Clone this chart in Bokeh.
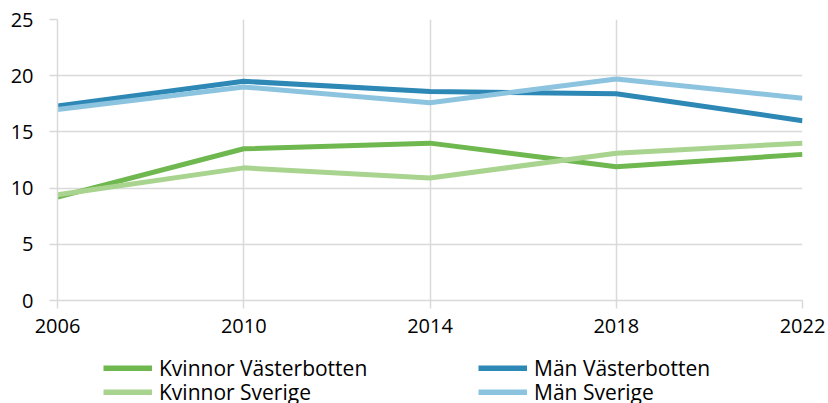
from bokeh.plotting import figure
from bokeh.layouts import column
from bokeh.models import Legend, LegendItem, FixedTicker, Range1d
from bokeh.embed import file_html
from bokeh.resources import INLINE

years = [2006, 2010, 2014, 2018, 2022]
kvinnor_vasterbotten = [9.2, 13.5, 14.0, 11.9, 13.0]
kvinnor_sverige = [9.4, 11.8, 10.9, 13.1, 14.0]
man_vasterbotten = [17.3, 19.5, 18.6, 18.4, 16.0]
man_sverige = [17.0, 19.0, 17.6, 19.7, 18.0]
y_ticks = [0, 5, 10, 15, 20, 25]

names = ["Kvinnor Västerbotten", "Kvinnor Sverige", "Män Västerbotten", "Män Sverige"]
values = [kvinnor_vasterbotten, kvinnor_sverige, man_vasterbotten, man_sverige]
colors = ["#6fb74f", "#a9d48f", "#2e88b6", "#8cc4e0"]

FONT = "Open Sans"
FS = "20px"
LFS = "21px"
GRID = "#d9d9d9"

p = figure(width=828, height=345, output_backend="svg", toolbar_location=None,
           x_range=Range1d(2006, 2022), y_range=Range1d(0, 25),
           min_border_left=57, min_border_right=26, min_border_top=19,
           min_border_bottom=45)
p.outline_line_color = None

for vals, col in zip(values, colors):
    p.line(years, vals, line_color=col, line_width=5)

for ax in (p.xaxis[0], p.yaxis[0]):
    ax.major_label_text_font = FONT
    ax.major_label_text_font_size = FS
    ax.major_label_text_color = "#000000"
    ax.axis_line_color = GRID
    ax.axis_line_width = 1.5
    ax.major_tick_line_color = GRID
    ax.major_tick_line_width = 1.5
    ax.major_tick_out = 8
    ax.major_tick_in = 0
    ax.minor_tick_line_color = None

p.xaxis[0].ticker = FixedTicker(ticks=years)
p.yaxis[0].ticker = FixedTicker(ticks=y_ticks)
p.xaxis[0].major_label_standoff = 10
p.yaxis[0].major_label_standoff = 16

p.xgrid[0].ticker = FixedTicker(ticks=years)
p.ygrid[0].ticker = FixedTicker(ticks=y_ticks)
p.xgrid.grid_line_color = GRID
p.ygrid.grid_line_color = GRID
p.xgrid.grid_line_width = 1.5
p.ygrid.grid_line_width = 1.5

# legend panel (its plot ranges keep the series out of view; only the legend shows)
lp = figure(width=828, height=58, output_backend="svg", toolbar_location=None,
            x_range=Range1d(0, 1), y_range=Range1d(0, 1),
            x_axis_location=None, y_axis_location=None,
            min_border_left=0, min_border_right=0, min_border_top=0,
            min_border_bottom=0)
lp.outline_line_color = None
lp.xgrid.visible = False
lp.ygrid.visible = False

lr = {}
for name, vals, col in zip(names, values, colors):
    lr[name] = lp.line(years, vals, line_color=col, line_width=6)

def add_row(row_names, y):
    lg = Legend(items=[LegendItem(label=n, renderers=[lr[n]]) for n in row_names],
                location=(46, y), orientation="horizontal",
                label_text_font=FONT, label_text_font_size=LFS,
                label_text_color="#000000",
                glyph_width=49, glyph_height=6, label_standoff=7,
                label_width=319, label_height=20, spacing=0,
                padding=0, margin=0,
                border_line_color=None, background_fill_alpha=0)
    lp.add_layout(lg, "center")

add_row([names[0], names[2]], 21)
add_row([names[1], names[3]], -3)

layout = column(p, lp, spacing=0)
open("out.html", "w").write(file_html(layout, INLINE))
